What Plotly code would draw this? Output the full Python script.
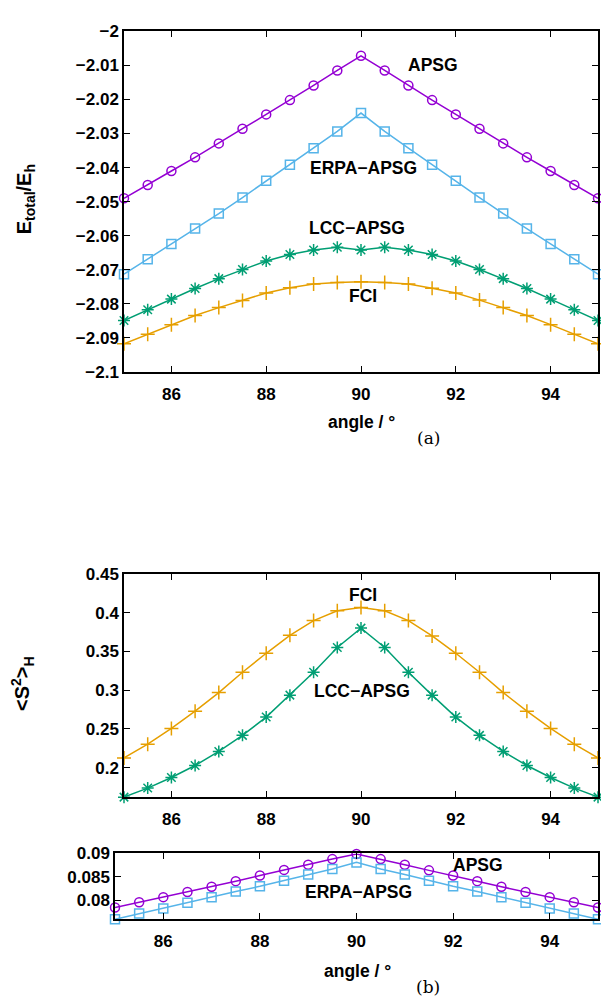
import plotly.graph_objects as go

# ---------------- data ----------------
angle = [85, 85.5, 86, 86.5, 87, 87.5, 88, 88.5, 89, 89.5, 90,
         90.5, 91, 91.5, 92, 92.5, 93, 93.5, 94, 94.5, 95]

# (a) total energies / Eh
E_apsg = [-2.0490, -2.0451, -2.0410, -2.0370, -2.0329, -2.0286, -2.0244, -2.0202, -2.0159, -2.0115, -2.0072,
          -2.0115, -2.0159, -2.0202, -2.0244, -2.0286, -2.0329, -2.0370, -2.0410, -2.0451, -2.0490]
E_erpa = [-2.0713, -2.0669, -2.0624, -2.0579, -2.0535, -2.0488, -2.0439, -2.0392, -2.0343, -2.0294, -2.0240,
          -2.0294, -2.0343, -2.0392, -2.0439, -2.0488, -2.0535, -2.0579, -2.0624, -2.0669, -2.0713]
E_lcc = [-2.0849, -2.0817, -2.0786, -2.0755, -2.0726, -2.0699, -2.0674, -2.0655, -2.0642, -2.0634, -2.0642,
         -2.0634, -2.0642, -2.0655, -2.0674, -2.0699, -2.0726, -2.0755, -2.0786, -2.0817, -2.0849]
E_fci = [-2.0917, -2.0889, -2.0861, -2.0834, -2.0811, -2.0790, -2.0768, -2.0753, -2.0742, -2.0737, -2.0735,
         -2.0737, -2.0742, -2.0754, -2.0768, -2.0789, -2.0811, -2.0834, -2.0861, -2.0889, -2.0917]

# (b) <S^2>_H
S_fci = [0.2125, 0.2302, 0.2505, 0.2728, 0.2968, 0.3230, 0.3475, 0.3707, 0.3897, 0.4024, 0.4066,
         0.4024, 0.3897, 0.3699, 0.3475, 0.3230, 0.2968, 0.2728, 0.2505, 0.2302, 0.2125]
S_lcc = [0.1619, 0.1736, 0.1872, 0.2027, 0.2209, 0.2416, 0.2652, 0.2935, 0.3230, 0.3550, 0.3800,
         0.3550, 0.3230, 0.2935, 0.2652, 0.2416, 0.2209, 0.2027, 0.1872, 0.1736, 0.1619]
S_apsg = [0.0785, 0.0796, 0.0807, 0.0818, 0.0829, 0.0841, 0.0853, 0.0865, 0.0876, 0.0888, 0.0899,
          0.0888, 0.0876, 0.0864, 0.0853, 0.0841, 0.0829, 0.0818, 0.0807, 0.0796, 0.0785]
S_erpa = [0.0760, 0.0772, 0.0783, 0.0795, 0.0807, 0.0819, 0.0830, 0.0842, 0.0855, 0.0867, 0.0881,
          0.0867, 0.0855, 0.0842, 0.0830, 0.0819, 0.0807, 0.0795, 0.0783, 0.0772, 0.0760]

x_tickvals = [86, 88, 90, 92, 94]
x_ticktext = ["86", "88", "90", "92", "94"]
ya_tickvals = [-2.0, -2.01, -2.02, -2.03, -2.04, -2.05, -2.06, -2.07, -2.08, -2.09, -2.1]
ya_ticktext = ["\u22122", "\u22122.01", "\u22122.02", "\u22122.03", "\u22122.04", "\u22122.05",
               "\u22122.06", "\u22122.07", "\u22122.08", "\u22122.09", "\u22122.1"]
yb_tickvals = [0.2, 0.25, 0.3, 0.35, 0.4, 0.45]
yb_ticktext = ["0.2", "0.25", "0.3", "0.35", "0.4", "0.45"]
yc_tickvals = [0.08, 0.085, 0.09]
yc_ticktext = ["0.08", "0.085", "0.09"]

# ---------------- styling ----------------
W, H = 601, 1007
PURPLE, BLUE, GREEN, ORANGE = "#9400d3", "#56b4e9", "#009e73", "#e69f00"


def px_x(p):
    return p / W


def px_y(p):
    return 1 - p / H


fig = go.Figure()

series = [
    # (y, color, symbol, xaxis, yaxis)
    (E_apsg, PURPLE, "circle-open", "x", "y"),
    (E_erpa, BLUE, "square-open", "x", "y"),
    (E_lcc, GREEN, "asterisk-open", "x", "y"),
    (E_fci, ORANGE, "cross-thin-open", "x", "y"),
    (S_fci, ORANGE, "cross-thin-open", "x2", "y2"),
    (S_lcc, GREEN, "asterisk-open", "x2", "y2"),
    (S_apsg, PURPLE, "circle-open", "x3", "y3"),
    (S_erpa, BLUE, "square-open", "x3", "y3"),
]
for yv, col, sym, xa, ya in series:
    fig.add_trace(go.Scatter(
        x=angle, y=yv, xaxis=xa, yaxis=ya, mode="lines+markers",
        line=dict(color=col, width=1.5),
        marker=dict(symbol=sym, size=9 if "circle" in sym or "square" in sym else 10,
                    color=col, line=dict(color=col, width=1.5)),
        showlegend=False, cliponaxis=False,
    ))

tickfont = dict(family="Liberation Sans, Arial, sans-serif", size=17, color="black", weight="bold")
common = dict(showline=True, linecolor="black", linewidth=1.5, mirror="allticks",
              ticks="inside", ticklen=6, tickwidth=1.2, tickcolor="black",
              showgrid=False, zeroline=False, tickfont=tickfont)
xcommon = dict(common, ticklabelstandoff=6)

fig.update_layout(
    width=W, height=H, margin=dict(l=0, r=0, t=0, b=0),
    paper_bgcolor="white", plot_bgcolor="white",
    xaxis=dict(domain=[px_x(124), px_x(598)], range=[85, 95], anchor="y",
               tickvals=x_tickvals, ticktext=x_ticktext, **xcommon),
    yaxis=dict(domain=[px_y(370), px_y(22.7)], range=[-2.1, -2.0], anchor="x",
               tickvals=ya_tickvals, ticktext=ya_ticktext, **common),
    xaxis2=dict(domain=[px_x(124), px_x(598)], range=[85, 95], anchor="y2",
                tickvals=x_tickvals, ticktext=x_ticktext, **xcommon),
    yaxis2=dict(domain=[px_y(803.3), px_y(575.7)], range=[min(S_lcc), 0.45], anchor="x2",
                tickvals=yb_tickvals, ticktext=yb_ticktext, **common),
    xaxis3=dict(domain=[px_x(115), px_x(598)], range=[85, 95], anchor="y3",
                tickvals=x_tickvals, ticktext=x_ticktext, **xcommon),
    yaxis3=dict(domain=[px_y(927.7), px_y(860.7)], range=[min(S_erpa), 0.09], anchor="x3",
                tickvals=yc_tickvals, ticktext=yc_ticktext, **common),
)

labfont = dict(family="Liberation Sans, Arial, sans-serif", size=17.5,
               color="black", weight="bold")
serif = dict(family="DejaVu Serif, Liberation Serif, serif", size=17, color="black")


def ann(text, x, y, font=labfont, angle=0):
    fig.add_annotation(text=text, x=px_x(x), y=px_y(y), xref="paper", yref="paper",
                       xanchor="center", yanchor="middle", showarrow=False,
                       font=font, textangle=angle)


ann("APSG", 433, 57)
ann("ERPA\u2212APSG", 363, 162)
ann("LCC\u2212APSG", 357, 223)
ann("FCI", 363, 293)
ann("FCI", 363, 597)
ann("LCC\u2212APSG", 362, 695)
ann("APSG", 478, 872)
ann("ERPA\u2212APSG", 358, 900)

ann("angle / \u00b0", 361, 421)
ann("angle / \u00b0", 357, 981)
ann("(a)", 428, 437, font=serif)
ann("(b)", 428, 997, font=serif)
ann("E<sub>total</sub>/E<sub>h</sub>", 25, 194, angle=-90,
    font=dict(labfont, size=20))
ann("<S<sup>2</sup>><sub>H</sub>", 22, 688, angle=-90,
    font=dict(labfont, size=20))

fig.write_html("out.html")
